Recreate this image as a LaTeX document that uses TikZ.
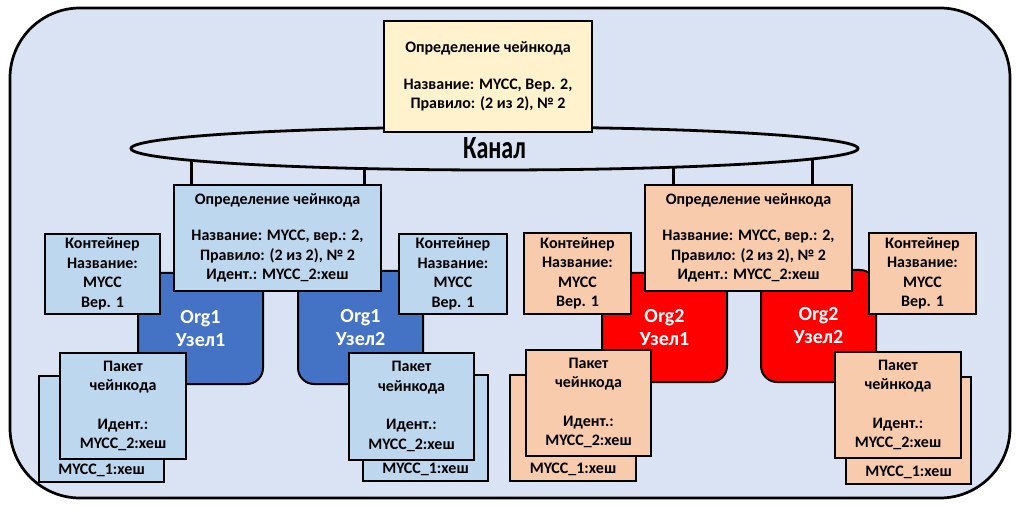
\documentclass[tikz,border=0pt]{standalone}
\usepackage{fontspec}
\setmainfont{Carlito}
\usetikzlibrary{shapes.geometric}
\definecolor{bgc}{HTML}{DAE3F3}
\definecolor{lblue}{HTML}{BDD7EE}
\definecolor{dblue}{HTML}{4472C4}
\definecolor{lorange}{HTML}{F8CBAD}
\definecolor{lyellow}{HTML}{FFF2CC}
\definecolor{nred}{HTML}{FF0000}
\tikzset{
  box/.style={draw, line width=2pt, inner sep=0pt, align=center,
    font=\fontsize{16}{19.5}\selectfont\bfseries},
  bluebox/.style={box, fill=lblue},
  orbox/.style={box, fill=lorange},
  orgnode/.style={draw, line width=2pt, rounded corners=16pt, inner sep=0pt, align=center,
    text=white, font=\fontsize{20}{23}\selectfont\bfseries},
  conn/.style={line width=3pt},
  smalltxt/.style={inner sep=0pt, font=\fontsize{16}{19.5}\selectfont\bfseries}
}
\begin{document}
\begin{tikzpicture}[x=1pt,y=-1pt]
\useasboundingbox (0,0) rectangle (1017,510);
\fill[white] (0,0) rectangle (1017,510);
% outer frame
\draw[line width=2.7pt, fill=bgc, rounded corners=70pt] (10,8) rectangle (1010,498);

% org nodes
\node[orgnode, fill=dblue, minimum width=125pt, minimum height=111pt] (orgL1) at (200.5,328.5) {Org1\\Узел1};
\node[orgnode, fill=dblue, minimum width=125pt, minimum height=113pt] (orgL2) at (360.5,327.5) {Org1\\Узел2};
\node[orgnode, fill=nred, minimum width=125pt, minimum height=109pt] (orgR1) at (664.5,327.5) {Org2\\Узел1};
\node[orgnode, fill=nred, minimum width=115pt, minimum height=112pt] (orgR2) at (818.5,326) {Org2\\Узел2};

% chaincode definitions on the peers
\node[bluebox, minimum width=207pt, minimum height=106pt] (defL) at (277.5,238)
  {Определение чейнкода\\[17pt]Название: MYCC, вер.: 2,\\Правило: (2 из 2), № 2\\Идент.: MYCC\_2:хеш};
\node[orbox, minimum width=207pt, minimum height=106pt] (defR) at (748.5,238)
  {Определение чейнкода\\[17pt]Название: MYCC, вер.: 2,\\Правило: (2 из 2), № 2\\Идент.: MYCC\_2:хеш};

% containers
\node[bluebox, minimum width=115pt, minimum height=80pt] (contL1) at (102.5,274) {Контейнер\\Название:\\MYCC\\Вер. 1};
\node[bluebox, minimum width=108pt, minimum height=80pt] (contL2) at (453,274) {Контейнер\\Название:\\MYCC\\Вер. 1};
\node[orbox, minimum width=107pt, minimum height=81pt] (contR1) at (577.5,273.5) {Контейнер\\Название:\\MYCC\\Вер. 1};
\node[orbox, minimum width=107pt, minimum height=81pt] (contR2) at (922.5,273.5) {Контейнер\\Название:\\MYCC\\Вер. 1};

% connector points on channel
\coordinate (cL1) at (191,148.5);
\coordinate (cL2) at (364,148.5);
\coordinate (cR1) at (673,148.5);
\coordinate (cR2) at (812,148.5);
\draw[conn] (cL1) -- (cL1 |- defL.north);
\draw[conn] (cL2) -- (cL2 |- defL.north);
\draw[conn] (cR1) -- (cR1 |- defR.north);
\draw[conn] (cR2) -- (cR2 |- defR.north);

% channel
\node[draw, ellipse, line width=2.8pt, fill=bgc, minimum width=727pt, minimum height=43pt, inner sep=0pt,
  font=\fontsize{24}{28}\selectfont\bfseries] (chan) at (494.5,148.5) {\raisebox{-2pt}{\scalebox{1}[1.35]{Канал}}};

% top definition
\node[box, fill=lyellow, minimum width=208pt, minimum height=111pt] (top) at (488,76.5)
  {Определение чейнкода\\[17pt]Название: MYCC, Вер. 2,\\Правило: (2 из 2), № 2};

% packets (back)
\node[bluebox, minimum width=125pt, minimum height=106pt] (pkL1b) at (101.5,429) {};
\node[smalltxt] (pkL1bt) at ([yshift=13pt]pkL1b.south) {MYCC\_1:хеш};
\node[bluebox, minimum width=125pt, minimum height=106pt] (pkL2b) at (425.5,428) {};
\node[smalltxt] (pkL2bt) at ([yshift=13pt]pkL2b.south) {MYCC\_1:хеш};
\node[orbox, minimum width=126pt, minimum height=106pt] (pkR1b) at (573,428) {};
\node[smalltxt] (pkR1bt) at ([yshift=13pt]pkR1b.south) {MYCC\_1:хеш};
\node[orbox, minimum width=125pt, minimum height=107pt] (pkR2b) at (908.5,430.5) {};
\node[smalltxt] (pkR2bt) at ([yshift=13pt]pkR2b.south) {MYCC\_1:хеш};

% packets (front)
\node[bluebox, minimum width=126pt, minimum height=106pt] (pkL1) at (123,406) {Пакет\\чейнкода\\[19pt]Идент.:\\MYCC\_2:хеш};
\node[bluebox, minimum width=125pt, minimum height=107pt] (pkL2) at (411.5,406.5) {Пакет\\чейнкода\\[19pt]Идент.:\\MYCC\_2:хеш};
\node[orbox, minimum width=125pt, minimum height=106pt] (pkR1) at (588.5,403) {Пакет\\чейнкода\\[19pt]Идент.:\\MYCC\_2:хеш};
\node[orbox, minimum width=126pt, minimum height=106pt] (pkR2) at (898,405) {Пакет\\чейнкода\\[19pt]Идент.:\\MYCC\_2:хеш};
\end{tikzpicture}
\end{document}
